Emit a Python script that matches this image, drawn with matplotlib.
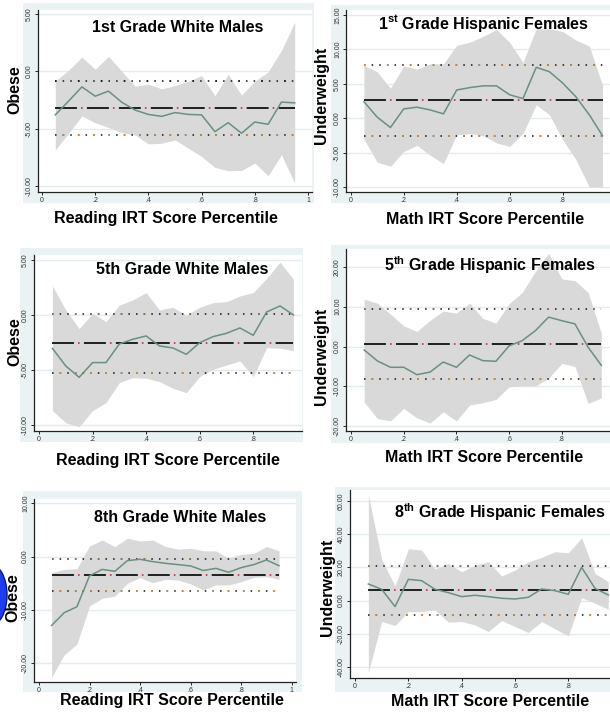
"""
Six-panel grid: marginal effect of IRT score percentile on weight status,
by grade and group, with 95% band and reference lines (Stata s2color look).
"""

import matplotlib.pyplot as plt
from matplotlib.patches import Rectangle, Ellipse

plt.rcParams["font.family"] = ["Liberation Sans", "DejaVu Sans"]
plt.rcParams["mathtext.fontset"] = "custom"
plt.rcParams["mathtext.rm"] = "Liberation Sans"
plt.rcParams["mathtext.bf"] = "Liberation Sans:bold"
plt.rcParams["lines.scale_dashes"] = False

# ---------------------------------------------------------------------------
# Data
# ---------------------------------------------------------------------------
pctl = [0.05, 0.10, 0.15, 0.20, 0.25, 0.30, 0.35, 0.40, 0.45, 0.50,
        0.55, 0.60, 0.65, 0.70, 0.75, 0.80, 0.85, 0.90, 0.95]

# 1st grade white males, obese (reading)
g1_wm_mid = [-3.8, -2.6, -1.36, -2.17, -1.73, -2.7, -3.38, -3.76, -3.93, -3.6,
             -3.76, -3.8, -5.26, -4.48, -5.4, -4.42, -4.62, -2.69, -2.75]
g1_wm_hi = [-0.84, 0.09, 1.24, 0.17, 1.3, 0.0, -1.3, -1.13, -1.53, -1.24,
            -0.87, -0.38, -2.14, -0.26, -2.08, -0.87, -0.06, 1.82, 4.28]
g1_wm_lo = [-6.85, -5.4, -3.9, -4.48, -4.9, -5.35, -5.55, -6.33, -6.27, -5.98,
            -6.7, -7.43, -8.38, -8.67, -8.64, -8.0, -9.1, -7.28, -9.74]
g1_wm_ref = [-3.24, -0.87, -5.58]          # mean, upper, lower

# 1st grade hispanic females, underweight (math)
g1_hf_mid = [2.4, 0.15, -1.35, 1.35, 1.6, 1.2, 0.63, 4.1, 4.45, 4.7,
             4.7, 3.4, 2.85, 7.4, 6.75, 5.1, 3.1, 0.5, -2.55]
g1_hf_hi = [7.7, 6.75, 4.35, 7.6, 7.15, 7.9, 7.9, 10.6, 11.05, 11.9,
            12.9, 11.0, 8.1, 13.0, 13.0, 12.6, 11.35, 10.5, 4.8]
g1_hf_lo = [-3.05, -6.4, -7.0, -4.85, -3.95, -5.4, -6.6, -2.4, -2.25, -2.55,
            -3.6, -4.1, -2.2, 1.95, 0.5, -3.15, -6.05, -10.0, -10.0]
g1_hf_ref = [2.6, 7.73, -2.56]

# 5th grade white males, obese (reading)
g5_wm_mid = [-3.03, -4.64, -5.67, -4.33, -4.33, -2.64, -2.21, -1.91, -2.82, -3.0,
             -3.58, -2.52, -1.97, -1.67, -1.18, -1.85, 0.27, 0.82, 0.0]
g5_wm_hi = [2.64, 0.45, -1.24, 0.15, -0.6, 0.9, 1.36, 2.03, 0.45, 0.7,
            -0.03, 0.7, 1.12, 1.2, 1.73, 2.03, 3.33, 4.8, 3.24]
g5_wm_lo = [-8.7, -9.8, -10.15, -8.7, -7.97, -6.15, -5.7, -5.76, -6.06, -6.67,
            -7.06, -5.6, -4.94, -4.55, -4.18, -5.6, -2.97, -3.03, -3.24]
g5_wm_ref = [-2.58, 0.09, -5.24]

# 5th grade hispanic females, underweight (math)
g5_hf_mid = [-0.84, -3.6, -5.2, -5.2, -7.06, -6.4, -3.87, -5.2, -2.1, -3.53,
             -3.7, 0.17, 1.5, 4.0, 7.4, 6.5, 5.7, -0.17, -4.7]
g5_hf_hi = [11.9, 10.9, 8.15, 5.2, 3.8, 6.55, 8.9, 8.4, 10.9, 7.1,
            5.9, 10.75, 13.6, 18.9, 23.4, 17.0, 16.55, 13.6, 3.36]
g5_hf_lo = [-13.9, -18.1, -18.65, -15.55, -17.9, -19.2, -16.4, -18.65, -14.7, -14.1,
            -13.3, -10.1, -9.9, -9.9, -8.0, -4.2, -5.0, -14.3, -12.9]
g5_hf_ref = [0.67, 9.5, -8.2]

# 8th grade white males, obese (reading)
g8_wm_mid = [-12.9, -10.5, -9.4, -3.6, -2.4, -2.75, -0.75, -0.5, -0.94, -1.25,
             -1.5, -1.75, -2.6, -2.2, -2.94, -2.06, -1.5, -0.63, -1.7]
g8_wm_hi = [-3.0, -2.4, -2.25, 2.0, 3.1, 1.9, 3.44, 2.94, 3.1, 1.9,
            1.4, 1.56, 1.1, 1.06, -0.3, 0.44, 0.6, 1.9, 1.1]
g8_wm_lo = [-22.6, -18.4, -16.4, -9.25, -7.8, -7.4, -5.0, -3.94, -4.9, -4.25,
            -4.4, -5.1, -6.25, -5.3, -5.3, -4.7, -3.9, -3.75, -4.25]
g8_wm_ref = [-3.44, -0.5, -6.44]

# 8th grade hispanic females, underweight (math)
g8_hf_mid = [10.0, 6.8, -3.6, 12.8, 12.0, 6.8, 4.8, 2.4, 3.2, 2.4,
             1.4, 1.0, 2.0, 7.0, 6.0, 3.8, 20.0, 7.4, 3.4]
g8_hf_hi = [63.4, 24.8, 8.8, 31.2, 30.4, 19.0, 22.4, 17.4, 21.4, 23.4,
            14.8, 18.4, 23.4, 26.0, 29.4, 28.8, 37.8, 16.4, 11.4]
g8_hf_lo = [-43.2, -12.6, -15.0, -6.6, -6.6, -5.6, -13.0, -12.6, -14.6, -18.6,
            -12.0, -15.6, -19.2, -12.6, -17.0, -21.2, 1.8, -1.6, -5.2]
g8_hf_ref = [6.4, 20.8, -8.6]

# ---------------------------------------------------------------------------
# Layout (pixels in a 610 x 712 canvas)
# ---------------------------------------------------------------------------
W, H = 610, 712
BG = "#EAF2F3"
GRID = "#E2ECEE"
FILL = "#D9D9D9"
LINE = "#6B8F80"
AXC = "#222222"

panels = [
    dict(mid=g1_wm_mid, hi=g1_wm_hi, lo=g1_wm_lo, ref=g1_wm_ref,
         title="1st Grade White Males", ylab="Obese",
         xlab="Reading IRT Score Percentile",
         ax=(38, 10, 312, 192), reg=(23, 3, 314, 203),
         xlim=(-0.015, 1.015), ylim=(-10.52, 5.34),
         yt=[5, 0, -5, -10], xt=[0, .2, .4, .6, .8, 1],
         tpos=(178, 27), ypos=(15, 90), xpos=(166, 218), up="#111111"),
    dict(mid=g1_hf_mid, hi=g1_hf_hi, lo=g1_hf_lo, ref=g1_hf_ref,
         title=r"1$^{\bf st}$ Grade Hispanic Females", ylab="Underweight",
         xlab="Math IRT Score Percentile",
         ax=(346, 10, 620, 192), reg=(331, 5, 625, 203),
         xlim=(-0.0177, 1.016), ylim=(-10.73, 15.73),
         yt=[15, 10, 5, 0, -5, -10], xt=[0, .2, .4, .6, .8],
         tpos=(484, 24), ypos=(322, 95), xpos=(485, 219), up="#E8A040"),
    dict(mid=g5_wm_mid, hi=g5_wm_hi, lo=g5_wm_lo, ref=g5_wm_ref,
         title="5th Grade White Males", ylab="Obese",
         xlab="Reading IRT Score Percentile",
         ax=(34, 255, 302, 431), reg=(20, 248, 303, 442),
         xlim=(-0.0187, 0.982), ylim=(-10.55, 5.45),
         yt=[5, 0, -5, -10], xt=[0, .2, .4, .6, .8],
         tpos=(182, 269), ypos=(15, 342), xpos=(168, 460), up="#7A9A50"),
    dict(mid=g5_hf_mid, hi=g5_hf_hi, lo=g5_hf_lo, ref=g5_hf_ref,
         title=r"5$^{\bf th}$ Grade Hispanic Females", ylab="Underweight",
         xlab="Math IRT Score Percentile",
         ax=(346, 249, 620, 431), reg=(331, 245, 625, 443),
         xlim=(-0.019, 1.021), ylim=(-21.2, 24.5),
         yt=[20, 10, 0, -10, -20], xt=[0, .2, .4, .6, .8],
         tpos=(490, 265), ypos=(322, 356), xpos=(484, 458), up="#7A9A50"),
    dict(mid=g8_wm_mid, hi=g8_wm_hi, lo=g8_wm_lo, ref=g8_wm_ref,
         title="8th Grade White Males", ylab="Obese",
         xlab="Reading IRT Score Percentile",
         ax=(34, 499, 296, 682), reg=(23, 491, 302, 692),
         xlim=(-0.0198, 1.017), ylim=(-23.5, 10.8),
         yt=[10, 0, -10, -20], xt=[0, .2, .4, .6, .8, 1],
         tpos=(180, 518), ypos=(13, 598), xpos=(172, 700), up="#7A9A50"),
    dict(mid=g8_hf_mid, hi=g8_hf_hi, lo=g8_hf_lo, ref=g8_hf_ref,
         title=r"8$^{\bf th}$ Grade Hispanic Females", ylab="Underweight",
         xlab="Math IRT Score Percentile",
         ax=(350, 490, 620, 678), reg=(335, 487, 625, 692),
         xlim=(-0.019, 0.994), ylim=(-46.6, 66.6),
         yt=[60, 40, 20, 0, -20, -40], xt=[0, .2, .4, .6, .8],
         tpos=(500, 512), ypos=(327, 587), xpos=(490, 702), up="#7A9A50"),
]


def fx(x):
    return x / W


def fy(y):
    return 1 - y / H


def xtick_fmt(v):
    if v == 0:
        return "0"
    if v == 1:
        return "1"
    return ("%.1f" % v).lstrip("0")


fig = plt.figure(figsize=(W / 100, H / 100), dpi=100)

for p in panels:
    rx0, ry0, rx1, ry1 = p["reg"]
    fig.add_artist(Rectangle((fx(rx0), fy(ry1)), fx(rx1 - rx0), (ry1 - ry0) / H,
                             transform=fig.transFigure, color=BG, lw=0, zorder=0))

    x0, y0, x1, y1 = p["ax"]
    ax = fig.add_axes([fx(x0), fy(y1), fx(x1 - x0), (y1 - y0) / H])
    ax.set_facecolor("white")
    ax.set_zorder(1)

    for v in p["yt"]:
        ax.axhline(v, color=GRID, lw=1.0, zorder=0)

    ax.fill_between(pctl, p["lo"], p["hi"], color=FILL, lw=0, zorder=1)

    xs = [pctl[0], pctl[-1]]
    m, u, l = p["ref"]
    # mean line: long black dashes with red dots in the gaps
    ax.plot(xs, [m, m], color="black", lw=1.2, ls=(0, (15.8, 7.2)), zorder=3)
    ax.plot(xs, [m, m], color="#C83030", lw=1.2, ls=(4.3, (1.2, 21.8)), zorder=3)
    # confidence bounds: dotted black with coloured dots
    ax.plot(xs, [u, u], color="#111111", lw=1.1, ls=(0, (1.1, 4.4)), zorder=3)
    ax.plot(xs, [u, u], color=p["up"], lw=1.1, ls=(0, (1.1, 15.4)), zorder=3)
    ax.plot(xs, [l, l], color="#111111", lw=1.1, ls=(0, (1.1, 4.4)), zorder=3)
    ax.plot(xs, [l, l], color="#E8A040", lw=1.1, ls=(5.5, (1.1, 9.9)), zorder=3)

    ax.plot(pctl, p["mid"], color=LINE, lw=1.1, zorder=4)

    ax.set_xlim(*p["xlim"])
    ax.set_ylim(*p["ylim"])
    ax.set_yticks(p["yt"])
    ax.set_yticklabels(["%.2f" % v for v in p["yt"]], rotation=90, va="center")
    ax.set_xticks(p["xt"])
    ax.set_xticklabels([xtick_fmt(v) for v in p["xt"]])
    ax.tick_params(axis="both", direction="out", length=2.4, width=0.7,
                   color=AXC, labelsize=5, labelcolor="#333333", pad=1.2)
    for side in ("top", "right"):
        ax.spines[side].set_visible(False)
    for side in ("left", "bottom"):
        ax.spines[side].set_color(AXC)
        ax.spines[side].set_linewidth(0.9)

    fig.text(fx(p["tpos"][0]), fy(p["tpos"][1]), p["title"], ha="center",
             va="center", fontsize=11.5, fontweight="bold", zorder=5)
    fig.text(fx(p["ypos"][0]), fy(p["ypos"][1]), p["ylab"], ha="center",
             va="center", rotation=90, fontsize=11.5, fontweight="bold", zorder=5)
    fig.text(fx(p["xpos"][0]), fy(p["xpos"][1]), p["xlab"], ha="center",
             va="center", fontsize=11.5, fontweight="bold", zorder=5)

# stray blue blob at the left edge of the bottom-left panel
fig.add_artist(Ellipse((fx(-10), fy(595)), fx(34), 62 / H,
                       transform=fig.transFigure, facecolor="#1E3CF0",
                       edgecolor="#0A1A70", lw=1.0, zorder=2))

fig.savefig("out.png", dpi=100)
